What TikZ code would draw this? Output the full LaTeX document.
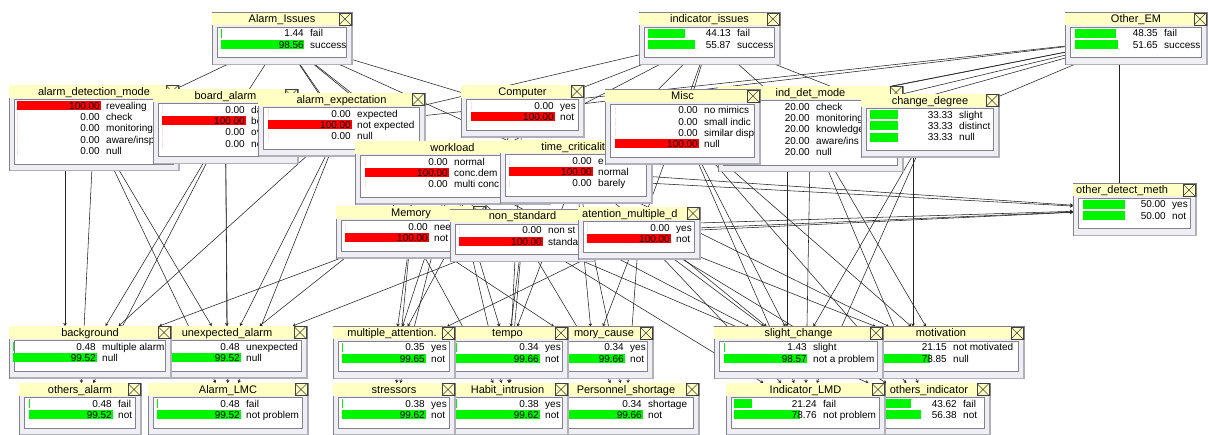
\documentclass[tikz,border=0pt]{standalone}
\usepackage{fontspec}
\setmainfont{Liberation Sans}
\usetikzlibrary{arrows.meta,backgrounds}
\definecolor{TitleClr}{RGB}{255,255,196}
\definecolor{FrameClr}{RGB}{238,238,244}
\definecolor{BorderClr}{RGB}{130,130,140}
\definecolor{ShadeClr}{RGB}{176,176,186}
\definecolor{BarGreen}{RGB}{0,245,0}
\definecolor{BarRed}{RGB}{255,0,0}
\definecolor{LinkClr}{RGB}{35,35,35}

\tikzset{
  monbox/.style={rectangle,anchor=north west,fill=FrameClr,draw=BorderClr,line width=0.6pt,inner sep=0pt,outer sep=0pt},
  titletxt/.style={font=\fontsize{11}{12}\selectfont,inner sep=0pt,anchor=base},
  rowtxt/.style={font=\fontsize{10}{11}\selectfont,inner sep=0pt},
  link/.style={draw=LinkClr,line width=0.55pt},
  linkto/.style={link,-{Stealth[length=3pt,width=3.5pt]}},
}

\newcommand{\mon}[6]{%
  \def\mname{#1}\def\mleft{#2}\def\mtop{#3}\def\mwid{#4}\def\mbar{#6}%
  \pgfmathsetmacro{\mhgt}{40.5+(#5-1)*11.3}%
  \node[monbox,minimum width=#4pt,minimum height=\mhgt pt] (#1) at (#2,#3) {};%
  \begin{scope}%
  \clip (#2,#3) rectangle ++(#4,\mhgt);%
  \fill[TitleClr] (#2,#3) rectangle ++(#4,12.5);%
  \draw[BorderClr,fill=white] (#2+5,#3+14.5) rectangle (#2+#4-6,#3+\mhgt-7);%
}
\newcommand{\mtitle}[2]{\node[titletxt] (\mname-t) at (#2,\mtop+10.3) {#1};}
\newcommand{\mtitlel}[2]{\node[titletxt,anchor=base west] (\mname-t) at (#2,\mtop+10.3) {#1};}
\newcommand{\mrow}[4]{%
  \pgfmathsetmacro{\rowy}{\mtop+20.5+(#1-1)*11.3}%
  \fill[#3] (\mbar,\rowy-4.5) rectangle ++({0.84*#2},9);%
  \node[rowtxt,anchor=base east] (\mname-v#1) at (\mbar+83,\rowy+3.7) {#2};%
  \node[rowtxt,anchor=base west] (\mname-s#1) at (\mbar+89,\rowy+3.7) {#4};%
}
\newcommand{\monend}{%
  \draw[black!75,fill=TitleClr,line width=0.5pt] (\mleft+\mwid-13,\mtop+0.5) rectangle (\mleft+\mwid-1,\mtop+12.5);%
  \draw[black!75,line width=0.5pt] (\mleft+\mwid-13,\mtop+0.5) -- (\mleft+\mwid-1,\mtop+12.5) (\mleft+\mwid-13,\mtop+12.5) -- (\mleft+\mwid-1,\mtop+0.5);%
  \end{scope}%
  \draw[ShadeClr,line width=1.4pt] (\mleft+\mwid,\mtop+13) -- (\mleft+\mwid,\mtop+\mhgt) -- (\mleft+1,\mtop+\mhgt);%
}

\begin{document}
\begin{tikzpicture}[x=1pt,y=-1pt]
\useasboundingbox (0,0) rectangle (1208,434);
\clip (0,0) rectangle (1208,434);

\mon{alarmIssues}{212}{12.5}{140}{2}{221}
\mtitle{Alarm\_Issues}{282}
\mrow{1}{1.44}{BarGreen}{fail}
\mrow{2}{98.56}{BarGreen}{success}
\monend

\mon{indIssues}{639}{12.5}{141}{2}{648}
\mtitle{indicator\_issues}{709.5}
\mrow{1}{44.13}{BarGreen}{fail}
\mrow{2}{55.87}{BarGreen}{success}
\monend

\mon{otherEM}{1065}{12.5}{142}{2}{1075}
\mtitle{Other\_EM}{1136}
\mrow{1}{48.35}{BarGreen}{fail}
\mrow{2}{51.65}{BarGreen}{success}
\monend

\mon{alarmDetMode}{9}{85}{170}{5}{17}
\mtitle{alarm\_detection\_mode}{94}
\mrow{1}{100.00}{BarRed}{revealing}
\mrow{2}{0.00}{BarRed}{check}
\mrow{3}{0.00}{BarRed}{monitoring}
\mrow{4}{0.00}{BarRed}{aware/insp}
\mrow{5}{0.00}{BarRed}{null}
\monend

\mon{boardAlarm}{153}{89}{145}{4}{162}
\mtitle{board\_alarm}{225.5}
\mrow{1}{0.00}{BarRed}{da}
\mrow{2}{100.00}{BarRed}{bo}
\mrow{3}{0.00}{BarRed}{ov}
\mrow{4}{0.00}{BarRed}{no}
\monend

\mon{alarmExp}{258}{93}{167}{3}{268}
\mtitle{alarm\_expectation}{341.5}
\mrow{1}{0.00}{BarRed}{expected}
\mrow{2}{100.00}{BarRed}{not expected}
\mrow{3}{0.00}{BarRed}{null}
\monend

\mon{workload}{355}{141}{195}{3}{365}
\mtitle{workload}{452.5}
\mrow{1}{0.00}{BarRed}{normal}
\mrow{2}{100.00}{BarRed}{conc.dem}
\mrow{3}{0.00}{BarRed}{multi conc}
\monend

\mon{timeCrit}{500}{140}{152}{3}{509}
\mtitle{time\_criticality}{576}
\mrow{1}{0.00}{BarRed}{e}
\mrow{2}{100.00}{BarRed}{normal}
\mrow{3}{0.00}{BarRed}{barely}
\monend

\mon{indDetMode}{718}{86}{185}{5}{727}
\mtitle{ind\_det\_mode}{810.5}
\mrow{1}{20.00}{BarGreen}{check}
\mrow{2}{20.00}{BarGreen}{monitoring}
\mrow{3}{20.00}{BarGreen}{knowledge}
\mrow{4}{20.00}{BarGreen}{aware/ins}
\mrow{5}{20.00}{BarGreen}{null}
\monend

\mon{misc}{605}{89.5}{155}{4}{615}
\mtitle{Misc}{682.5}
\mrow{1}{0.00}{BarRed}{no mimics}
\mrow{2}{0.00}{BarRed}{small indic}
\mrow{3}{0.00}{BarRed}{similar disp}
\mrow{4}{100.00}{BarRed}{null}
\monend

\mon{changeDeg}{861}{94}{138}{3}{870}
\mtitle{change\_degree}{930}
\mrow{1}{33.33}{BarGreen}{slight}
\mrow{2}{33.33}{BarGreen}{distinct}
\mrow{3}{33.33}{BarGreen}{null}
\monend

\mon{computer}{461}{85}{123}{2}{471}
\mtitle{Computer}{522.5}
\mrow{1}{0.00}{BarRed}{yes}
\mrow{2}{100.00}{BarRed}{not}
\monend

\mon{memory}{336}{206}{150}{2}{345}
\mtitle{Memory}{411}
\mrow{1}{0.00}{BarRed}{nee}
\mrow{2}{100.00}{BarRed}{not}
\monend

\mon{nonStd}{450}{209.5}{145}{2}{459}
\mtitle{non\_standard}{522.5}
\mrow{1}{0.00}{BarRed}{non st}
\mrow{2}{100.00}{BarRed}{standa}
\monend

\mon{attMult}{578}{207}{122}{2}{587}
\mtitlel{atention\_multiple\_d}{582}
\mrow{1}{0.00}{BarRed}{yes}
\mrow{2}{100.00}{BarRed}{not}
\monend

\mon{otherDet}{1073}{183.5}{123}{2}{1083}
\mtitlel{other\_detect\_meth}{1076}
\mrow{1}{50.00}{BarGreen}{yes}
\mrow{2}{50.00}{BarGreen}{not}
\monend

\mon{unexpAlarm}{147}{326}{160}{2}{157}
\mtitle{unexpected\_alarm}{227}
\mrow{1}{0.48}{BarGreen}{unexpected}
\mrow{2}{99.52}{BarGreen}{null}
\monend

\mon{background}{9}{326}{162}{2}{13}
\mtitle{background}{90}
\mrow{1}{0.48}{BarGreen}{multiple alarm}
\mrow{2}{99.52}{BarGreen}{null}
\monend

\mon{memCause}{533}{326.5}{120}{2}{541}
\mtitle{mory\_cause}{604}
\mrow{1}{0.34}{BarGreen}{yes}
\mrow{2}{99.66}{BarGreen}{not}
\monend

\mon{tempo}{447}{326.5}{121}{2}{456}
\mtitle{tempo}{507.5}
\mrow{1}{0.34}{BarGreen}{yes}
\mrow{2}{99.66}{BarGreen}{not}
\monend

\mon{multAtt}{333}{326.5}{122}{2}{342}
\mtitle{multiple\_attention.}{392}
\mrow{1}{0.35}{BarGreen}{yes}
\mrow{2}{99.65}{BarGreen}{not}
\monend

\mon{motivation}{858}{326.5}{166}{2}{864}
\mtitle{motivation}{941}
\mrow{1}{21.15}{BarGreen}{not motivated}
\mrow{2}{78.85}{BarGreen}{null}
\monend

\mon{slightChange}{714}{326.5}{169}{2}{724}
\mtitle{slight\_change}{798.5}
\mrow{1}{1.43}{BarGreen}{slight}
\mrow{2}{98.57}{BarGreen}{not a problem}
\monend

\mon{othersAlarm}{19}{383}{122}{2}{29}
\mtitle{others\_alarm}{80}
\mrow{1}{0.48}{BarGreen}{fail}
\mrow{2}{99.52}{BarGreen}{not}
\monend

\mon{alarmLMC}{148}{383}{160}{2}{157}
\mtitle{Alarm\_LMC}{228}
\mrow{1}{0.48}{BarGreen}{fail}
\mrow{2}{99.52}{BarGreen}{not problem}
\monend

\mon{personnel}{553}{383}{146}{2}{559}
\mtitle{Personnel\_shortage}{626}
\mrow{1}{0.34}{BarGreen}{shortage}
\mrow{2}{99.66}{BarGreen}{not}
\monend

\mon{habitIntr}{447}{383}{121}{2}{456}
\mtitle{Habit\_intrusion}{507.5}
\mrow{1}{0.38}{BarGreen}{yes}
\mrow{2}{99.62}{BarGreen}{not}
\monend

\mon{stressors}{333}{383}{122}{2}{342}
\mtitle{stressors}{394}
\mrow{1}{0.38}{BarGreen}{yes}
\mrow{2}{99.62}{BarGreen}{not}
\monend

\mon{othersInd}{868}{383}{122}{2}{874}
\mtitle{others\_indicator}{929}
\mrow{1}{43.62}{BarGreen}{fail}
\mrow{2}{56.38}{BarGreen}{not}
\monend

\mon{indLMD}{726}{383}{159}{2}{734}
\mtitle{Indicator\_LMD}{805.5}
\mrow{1}{21.24}{BarGreen}{fail}
\mrow{2}{78.76}{BarGreen}{not problem}
\monend

\begin{scope}[on background layer]
\fill[white] (0,0) rectangle (1208,434);

\draw[link] (alarmIssues) -- (alarmDetMode);
\draw[link] (alarmIssues) -- (boardAlarm);
\draw[link] (alarmIssues) -- (alarmExp);
\draw[link] (alarmIssues) -- (workload);
\draw[link] (alarmIssues) -- (memory);
\draw[link] (alarmIssues) -- (computer);
\draw[link] (alarmIssues) -- (timeCrit);
\draw[link] (alarmIssues) -- (nonStd);
\draw[link] (indIssues) -- (computer);
\draw[link] (indIssues) -- (misc);
\draw[link] (indIssues) -- (indDetMode);
\draw[link] (indIssues) -- (changeDeg);
\draw[link] (indIssues) -- (alarmExp);
\draw[link] (indIssues) -- (timeCrit);
\draw[link] (indIssues) -- (attMult);
\draw[link] (indIssues) -- (workload);
\draw[link] (otherEM) -- (alarmExp);
\draw[link] (otherEM) -- (computer);
\draw[link] (otherEM) -- (misc);
\draw[link] (otherEM) -- (indDetMode);
\draw[link] (otherEM) -- (changeDeg);
\draw[link] (otherEM) -- (workload);
\draw[link] (otherEM) -- (timeCrit);
\draw[link] ([xshift=-17pt]otherEM.south) -- ([xshift=-15.5pt]otherDet.north);

\draw[linkto] (workload) -- (otherDet);
\draw[linkto] (timeCrit) -- (otherDet);
\draw[linkto] (attMult) -- (otherDet);
\draw[linkto] (nonStd) -- (otherDet);
\draw[linkto] (memory) -- (otherDet);

\draw[linkto] ([xshift=-29pt]alarmDetMode.south) -- ([xshift=-25pt]background.north);
\draw[linkto] (alarmDetMode) -- (unexpAlarm);
\draw[linkto] (alarmDetMode) -- (othersAlarm);
\draw[linkto] (alarmDetMode) -- (alarmLMC);
\draw[linkto] (boardAlarm) -- (background);
\draw[linkto] (boardAlarm) -- (unexpAlarm);
\draw[linkto] (boardAlarm) -- (othersAlarm);
\draw[linkto] (boardAlarm) -- (alarmLMC);
\draw[linkto] (alarmExp) -- (background);
\draw[linkto] (alarmExp) -- (unexpAlarm);
\draw[linkto] (alarmExp) -- (alarmLMC);
\draw[linkto] (workload) -- (multAtt);
\draw[linkto] (workload) -- (tempo);
\draw[linkto] (workload) -- (stressors);
\draw[linkto] (workload) -- (habitIntr);
\draw[linkto] (workload) -- (slightChange);
\draw[linkto] (workload) -- (unexpAlarm);
\draw[linkto] (timeCrit) -- (tempo);
\draw[linkto] (timeCrit) -- (memCause);
\draw[linkto] (timeCrit) -- (personnel);
\draw[linkto] (timeCrit) -- (slightChange);
\draw[linkto] (timeCrit) -- (motivation);
\draw[linkto] (computer) -- (multAtt);
\draw[linkto] (computer) -- (habitIntr);
\draw[linkto] (memory) -- (background);
\draw[linkto] (memory) -- (multAtt);
\draw[linkto] (memory) -- (memCause);
\draw[linkto] (memory) -- (habitIntr);
\draw[linkto] (memory) -- (stressors);
\draw[linkto] (nonStd) -- (tempo);
\draw[linkto] (nonStd) -- (habitIntr);
\draw[linkto] (nonStd) -- (personnel);
\draw[linkto] (nonStd) -- (indLMD);
\draw[linkto] (nonStd) -- (othersInd);
\draw[linkto] (nonStd) -- (unexpAlarm);
\draw[linkto] (attMult) -- (memCause);
\draw[linkto] (attMult) -- (personnel);
\draw[linkto] (attMult) -- (slightChange);
\draw[linkto] (attMult) -- (motivation);
\draw[linkto] (attMult) -- (othersInd);
\draw[linkto] (attMult) -- (indLMD);
\draw[linkto] (attMult) -- (multAtt);
\draw[linkto] (misc) -- (slightChange);
\draw[linkto] (misc) -- (indLMD);
\draw[linkto] (misc) -- (othersInd);
\draw[linkto] (misc) -- (motivation);
\draw[linkto] ([xshift=-23.5pt]indDetMode.south) -- ([xshift=-11.5pt]slightChange.north);
\draw[linkto] (indDetMode) -- (indLMD);
\draw[linkto] (indDetMode) -- (othersInd);
\draw[linkto] (indDetMode) -- (motivation);
\draw[linkto] ([xshift=-17pt]changeDeg.south) -- ([xshift=-28pt]motivation.north);
\draw[linkto] (changeDeg) -- (slightChange);
\draw[linkto] (changeDeg) -- (indLMD);
\end{scope}

\end{tikzpicture}
\end{document}
